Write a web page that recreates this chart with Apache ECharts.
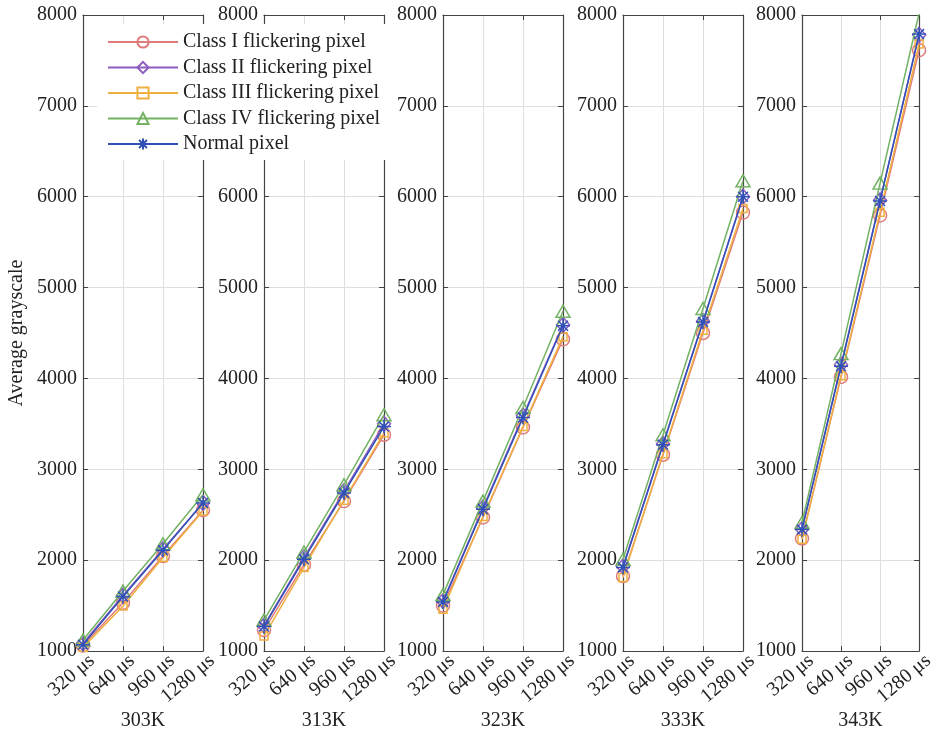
<!DOCTYPE html>
<html>
<head>
<meta charset="utf-8">
<script src="https://cdn.jsdelivr.net/npm/echarts@6/dist/echarts.min.js"></script>
<style>html,body{margin:0;padding:0;background:#fff;}#c{width:937px;height:736px;}</style>
</head>
<body>
<div id="c"></div>
<script>
// ---- data ----
const categories = ['320 μs', '640 μs', '960 μs', '1280 μs'];
const temperatures = ['303K', '313K', '323K', '333K', '343K'];
const seriesNames = ['Class I flickering pixel', 'Class II flickering pixel', 'Class III flickering pixel', 'Class IV flickering pixel', 'Normal pixel'];
const yTicks = [1000, 2000, 3000, 4000, 5000, 6000, 7000, 8000];

// values per temperature panel (303K, 313K, 323K, 333K, 343K)
const classI = [
  [1060, 1530, 2045, 2550],
  [1230, 1950, 2650, 3380],
  [1500, 2470, 3460, 4430],
  [1825, 3160, 4500, 5825],
  [2237, 4016, 5794, 7613]
];
const classII = [
  [1085, 1610, 2120, 2630],
  [1280, 2030, 2760, 3500],
  [1550, 2580, 3590, 4590],
  [1930, 3280, 4630, 6000],
  [2340, 4150, 5960, 7780]
];
const classIII = [
  [1040, 1495, 2030, 2540],
  [1165, 1920, 2660, 3400],
  [1460, 2480, 3470, 4460],
  [1810, 3170, 4530, 5870],
  [2230, 4030, 5830, 7680]
];
const classIV = [
  [1120, 1660, 2180, 2720],
  [1340, 2090, 2830, 3600],
  [1620, 2650, 3680, 4740],
  [2010, 3380, 4770, 6175],
  [2415, 4273, 6150, 8020]
];
const normal = [
  [1070, 1600, 2110, 2630],
  [1270, 2010, 2740, 3470],
  [1540, 2560, 3570, 4580],
  [1920, 3270, 4620, 6000],
  [2336, 4134, 5953, 7790]
];

// ---- styles ----
const colors = ['#e07b7b', '#8e5cc0', '#f0b040', '#72b262', '#3050b8'];
const symbols = ['circle', 'diamond', 'rect', 'triangle',
  'path://M0,-10L0,10M-10,0L10,0M-7.07,-7.07L7.07,7.07M-7.07,7.07L7.07,-7.07'];
const symbolSizes = [13, [13, 15], 8, [14, 12], 14];
const allData = [classI, classII, classIII, classIV, normal];

const font = 'Liberation Serif, Times New Roman, serif';
const lefts = [83, 264, 443, 623, 802];
const plotW = 120, plotTop = 15, plotH = 637;

const grids = [], xAxes = [], yAxes = [], series = [];
temperatures.forEach((t, i) => {
  grids.push({ left: lefts[i], top: plotTop, width: plotW, height: plotH, containLabel: false });
  xAxes.push({
    type: 'category', gridIndex: i, data: categories, boundaryGap: false, position: 'bottom',
    name: t, nameLocation: 'middle', nameGap: 60, nameMoveOverlap: false,
    nameTextStyle: { fontFamily: font, fontSize: 20, color: '#222' },
    axisLine: { lineStyle: { color: '#444', width: 1.2 } },
    axisTick: { inside: true, length: 5, lineStyle: { color: '#444' } },
    axisLabel: { rotate: 40, margin: 15, padding: [0, -12, 0, 0], fontFamily: font, fontSize: 20, color: '#222', interval: 0 },
    splitLine: { show: true, lineStyle: { color: '#dedede', width: 1 } }
  });
  xAxes.push({
    type: 'category', gridIndex: i, data: categories, boundaryGap: false, position: 'top',
    axisLine: { lineStyle: { color: '#444', width: 1.2 } },
    axisTick: { inside: true, length: 5, lineStyle: { color: '#444' } },
    axisLabel: { show: false }, splitLine: { show: false }
  });
  yAxes.push({
    type: 'value', gridIndex: i, min: yTicks[0], max: yTicks[yTicks.length - 1], interval: 1000, position: 'left',
    name: i === 0 ? 'Average grayscale' : '', nameLocation: 'middle', nameGap: 56, nameMoveOverlap: false,
    nameTextStyle: { fontFamily: font, fontSize: 20, color: '#222' },
    axisLine: { show: true, lineStyle: { color: '#444', width: 1.2 } },
    axisTick: { show: true, inside: true, length: 5, lineStyle: { color: '#444' } },
    axisLabel: { margin: 6, fontFamily: font, fontSize: 20, color: '#222', formatter: v => String(v) },
    splitLine: { show: true, lineStyle: { color: '#dedede', width: 1 } }
  });
  yAxes.push({
    type: 'value', gridIndex: i, min: yTicks[0], max: yTicks[yTicks.length - 1], interval: 1000, position: 'right',
    axisLine: { show: true, lineStyle: { color: '#444', width: 1.2 } },
    axisTick: { show: true, inside: true, length: 5, lineStyle: { color: '#444' } },
    axisLabel: { show: false }, splitLine: { show: false }
  });
  seriesNames.forEach((name, k) => {
    series.push({
      type: 'line', name: name, xAxisIndex: 2 * i, yAxisIndex: 2 * i,
      data: allData[k][i],
      symbol: symbols[k], symbolSize: symbolSizes[k], showAllSymbol: true,
      lineStyle: { color: colors[k], width: 1.5 },
      itemStyle: { color: 'rgba(255,255,255,0)', borderColor: colors[k], borderWidth: 1.5 },
      emphasis: { disabled: true },
      z: 2 + k, animation: false
    });
  });
});

const chart = echarts.init(document.getElementById('c'), null, { renderer: 'canvas' });
chart.setOption({
  backgroundColor: '#fff',
  animation: false,
  grid: grids, xAxis: xAxes, yAxis: yAxes,
  legend: {
    data: seriesNames, orient: 'vertical', left: 97, top: 24,
    padding: [8, 8, 6, 10], itemGap: 5.5, itemWidth: 70, itemHeight: 14,
    backgroundColor: '#fff', z: 10,
    textStyle: { fontFamily: font, fontSize: 20, color: '#222', lineHeight: 20 }
  },
  series: series
});
</script>
</body>
</html>
